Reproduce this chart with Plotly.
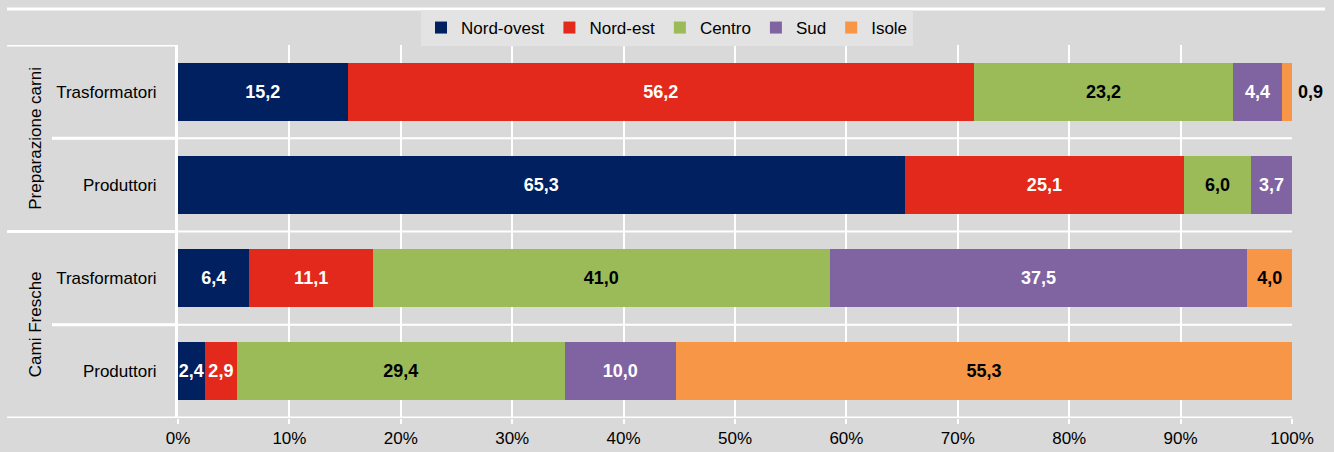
import plotly.graph_objects as go

rows = ["Trasformatori", "Produttori", "Trasformatori", "Produttori"]
groups = ["Preparazione carni", "Cami Fresche"]
series = ["Nord-ovest", "Nord-est", "Centro", "Sud", "Isole"]
nord_ovest = [15.2, 65.3, 6.4, 2.4]
nord_est = [56.2, 25.1, 11.1, 2.9]
centro = [23.2, 6.0, 41.0, 29.4]
sud = [4.4, 3.7, 37.5, 10.0]
isole = [0.9, None, 4.0, 55.3]
x_ticks = [0, 10, 20, 30, 40, 50, 60, 70, 80, 90, 100]

colors = ["#002060", "#E3291B", "#9BBB59", "#8064A2", "#F79646"]
text_colors = ["white", "white", "black", "white", "black"]
values = [nord_ovest, nord_est, centro, sud, isole]

FONT = "Liberation Sans, Arial, sans-serif"
FS = 17
BG = "#D9D9D9"

def fmt(v):
    return "" if v is None else f"{v:.1f}".replace(".", ",")

fig = go.Figure()
ypos = list(range(len(rows)))
outside_labels = []
for name, vals, col, tcol in zip(series, values, colors, text_colors):
    texts = [fmt(v) for v in vals]
    if name == "Isole":
        # the tiny first value is labelled outside the bar
        outside_labels.append((ypos[0], texts[0]))
        texts[0] = ""
    fig.add_trace(go.Bar(
        name=name, y=ypos, x=[0 if v is None else v for v in vals], orientation="h",
        marker=dict(color=col, line=dict(width=0)),
        text=texts, textposition="inside", insidetextanchor="middle",
        textangle=0, constraintext="none",
        textfont=dict(family=FONT, size=18, color=tcol, weight="bold"),
        width=0.62, hoverinfo="skip",
    ))

L = 178; R = 42; T = 45; B = 34
W = 1334 - L - R

def px(xp):
    return (xp - L) / W

shapes = []
def line(x0, x1, y, w=3):
    shapes.append(dict(type="line", xref="paper", yref="y", x0=px(x0), x1=px(x1),
                       y0=y, y1=y, line=dict(color="white", width=w), layer="below"))

line(7, 177, -0.5)
line(52, 1292, 0.5, 2)
line(52, 176, 0.5)
line(7, 1292, 1.5, 2)
line(7, 176, 1.5)
line(52, 1292, 2.5, 2)
line(52, 176, 2.5)
line(7, 1292, 3.5, 3)
# top white line
ytop = 1 + (45 - 9) / 373
shapes.append(dict(type="line", xref="paper", yref="paper", x0=px(7), x1=px(1325),
                   y0=ytop, y1=ytop, line=dict(color="white", width=3)))

annotations = []
for g, yc in zip(groups, [0.5, 2.5]):
    annotations.append(dict(text=g, xref="paper", yref="y", x=px(24), y=yc,
                            showarrow=False, textangle=-90,
                            font=dict(family=FONT, size=FS, color="black")))
for yv, t in outside_labels:
    annotations.append(dict(text=t, xref="x", yref="y", x=100, y=yv, xanchor="left",
                            xshift=4, showarrow=False,
                            font=dict(family=FONT, size=18, color="black", weight="bold")))

fig.update_layout(
    width=1334, height=452,
    paper_bgcolor=BG, plot_bgcolor=BG,
    barmode="stack", barnorm="percent",
    margin=dict(l=L, r=R, t=T, b=B, pad=0, autoexpand=False),
    font=dict(family=FONT, size=FS, color="black"),
    showlegend=True,
    legend=dict(orientation="h", xref="container", yref="container", x=0.5, xanchor="center",
                y=1 - 10 / 452, yanchor="top", bgcolor="#E3E3E3",
                font=dict(family=FONT, size=FS, color="black"),
                itemwidth=30, traceorder="normal"),
    xaxis=dict(range=[0, 100], tickvals=x_ticks, ticktext=[f"{t}%" for t in x_ticks],
               showgrid=True, gridcolor="white", gridwidth=2, zeroline=False,
               showline=False, ticks="outside", ticklen=5, tickcolor="white", tickwidth=2,
               tickfont=dict(family=FONT, size=FS, color="black")),
    yaxis=dict(range=[3.5, -0.5], tickvals=ypos, ticktext=rows, showgrid=False,
               zeroline=False, showline=True, linecolor="white", linewidth=3,
               ticks="", ticklabelstandoff=15,
               tickfont=dict(family=FONT, size=FS, color="black")),
    shapes=shapes, annotations=annotations,
)

fig.write_html("out.html", config={"displayModeBar": False},
               post_script="document.body.style.margin='0';document.body.style.background='#D9D9D9';")
